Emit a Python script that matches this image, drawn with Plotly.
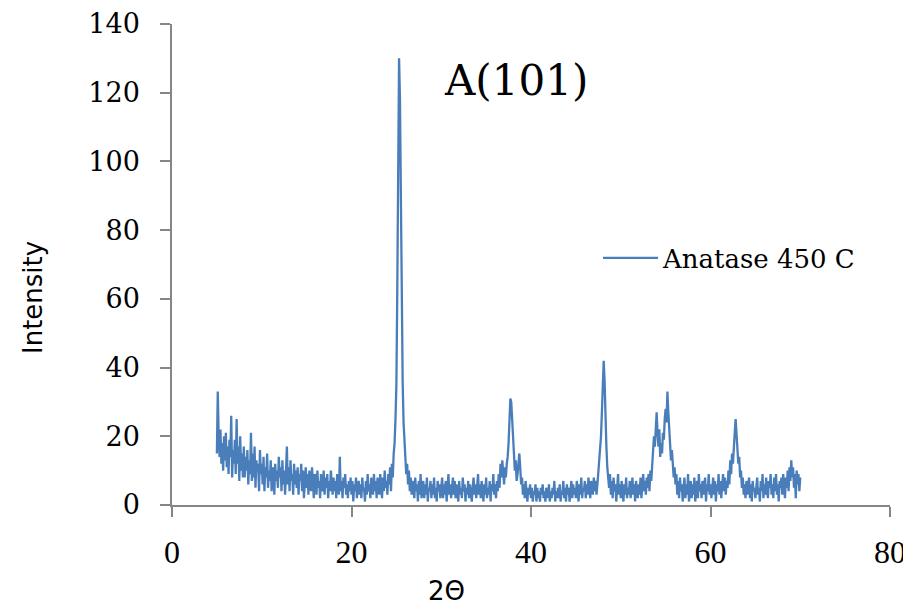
import plotly.graph_objects as go

# Scan parameters (2-theta grid)
two_theta_start = 5.0
two_theta_step = 0.1

# Intensity, one row per degree (10 points per row)
intensity_05_15 = [
    15, 33, 20, 14, 22, 12, 18, 10, 20, 13,
    21, 11, 17, 9, 19, 14, 26, 8, 16, 12,
    19, 9, 25, 12, 17, 7, 20, 10, 15, 8,
    17, 8, 14, 10, 16, 6, 13, 9, 21, 7,
    15, 8, 17, 5, 13, 10, 12, 4, 16, 9,
    12, 6, 14, 4, 11, 8, 15, 5, 10, 7,
    13, 4, 9, 11, 3, 12, 7, 10, 5, 14,
    8, 11, 4, 13, 6, 10, 3, 12, 17, 6,
    11, 4, 13, 7, 9, 3, 12, 6, 10, 5,
    11, 3, 9, 7, 12, 4, 10, 2, 8, 11,
]
intensity_15_25 = [
    5, 9, 3, 10, 7, 4, 11, 6, 2, 9,
    8, 3, 10, 5, 7, 2, 9, 6, 4, 10,
    3, 8, 5, 9, 2, 7, 4, 10, 6, 3,
    8, 4, 7, 2, 9, 5, 3, 14, 4, 7,
    2, 8, 5, 9, 3, 6, 2, 7, 4, 8,
    3, 7, 1, 6, 4, 8, 2, 5, 7, 3,
    6, 2, 8, 4, 5, 1, 7, 3, 9, 4,
    6, 2, 8, 5, 3, 9, 4, 7, 2, 8,
    5, 3, 9, 6, 2, 8, 4, 10, 5, 7,
    3, 9, 6, 11, 4, 12, 8, 15, 18, 25,
]
intensity_25_35 = [
    35, 62, 95, 130, 118, 88, 52, 36, 24, 17,
    14, 9, 12, 6, 10, 4, 8, 3, 7, 5,
    2, 8, 4, 6, 1, 7, 3, 9, 2, 5,
    7, 2, 6, 3, 8, 1, 5, 4, 7, 2,
    6, 3, 8, 2, 5, 1, 7, 4, 6, 2,
    5, 8, 2, 6, 3, 7, 1, 4, 9, 3,
    6, 2, 5, 8, 3, 7, 2, 6, 4, 1,
    7, 3, 5, 2, 8, 4, 6, 1, 5, 3,
    7, 2, 6, 4, 1, 5, 8, 3, 6, 2,
    5, 9, 3, 6, 2, 7, 4, 1, 6, 3,
]
intensity_35_45 = [
    8, 2, 5, 3, 7, 1, 6, 4, 9, 3,
    6, 2, 7, 4, 9, 5, 12, 8, 13, 10,
    6, 11, 8, 12, 14, 18, 24, 31, 30, 25,
    22, 14, 10, 13, 7, 9, 12, 15, 11, 6,
    8, 3, 6, 2, 7, 4, 1, 5, 3, 6,
    2, 5, 1, 4, 3, 6, 1, 5, 2, 4,
    1, 5, 3, 6, 2, 4, 1, 5, 3, 2,
    6, 1, 4, 2, 5, 3, 7, 1, 4, 2,
    5, 2, 6, 1, 4, 3, 7, 2, 5, 1,
    6, 3, 5, 1, 4, 7, 2, 6, 3, 5,
]
intensity_45_55 = [
    2, 7, 4, 1, 6, 3, 8, 2, 5, 4,
    7, 2, 6, 3, 8, 4, 2, 7, 5, 3,
    8, 4, 7, 3, 6, 9, 12, 16, 20, 27,
    34, 42, 36, 24, 17, 11, 8, 5, 9, 3,
    7, 2, 8, 4, 6, 1, 5, 9, 3, 6,
    2, 7, 4, 1, 6, 3, 8, 2, 5, 3,
    7, 2, 5, 8, 3, 6, 1, 7, 4, 2,
    6, 3, 8, 2, 5, 9, 4, 7, 3, 8,
    5, 9, 4, 10, 7, 12, 15, 20, 17, 24,
    27, 21, 17, 22, 14, 18, 15, 21, 19, 25,
]
intensity_55_65 = [
    28, 24, 33, 27, 22, 17, 13, 16, 10, 8,
    11, 6, 9, 3, 7, 2, 8, 4, 6, 1,
    5, 8, 2, 6, 3, 9, 1, 5, 7, 2,
    6, 3, 8, 1, 5, 7, 2, 9, 4, 6,
    2, 7, 3, 5, 8, 1, 6, 4, 9, 3,
    6, 2, 5, 8, 3, 7, 1, 6, 4, 9,
    3, 7, 2, 6, 9, 4, 8, 3, 7, 5,
    10, 6, 13, 9, 15, 12, 19, 21, 25, 20,
    16, 12, 14, 8, 10, 5, 8, 3, 6, 2,
    7, 3, 5, 8, 2, 6, 1, 7, 4, 5,
]
intensity_65_70 = [
    2, 6, 8, 3, 5, 1, 7, 4, 9, 2,
    6, 3, 8, 4, 2, 7, 5, 9, 3, 6,
    2, 8, 4, 9, 3, 6, 1, 7, 5, 8,
    3, 9, 6, 2, 8, 5, 10, 4, 11, 7,
    13, 8, 11, 5, 9, 2, 10, 6, 9, 4,
    8,
]

intensity = (intensity_05_15 + intensity_15_25 + intensity_25_35 +
             intensity_35_45 + intensity_45_55 + intensity_55_65 + intensity_65_70)
two_theta = [round(two_theta_start + i * two_theta_step, 2) for i in range(len(intensity))]

x_ticks = [0, 20, 40, 60, 80]
y_ticks = [0, 20, 40, 60, 80, 100, 120, 140]
series_name = "Anatase 450 C"
peak_label = "A(101)"
x_title = "2Θ"
y_title = "Intensity"

axis_grey = "#868686"

# page body margin offsets the figure
off = 8
W, H = 911 - off, 610 - off
# plot-area pixel box in page coordinates
pl, pr, pt, pb = 172, 890, 24, 505


def px_to_paper(px, py):
    return (px - pl) / (pr - pl), (pb - py) / (pb - pt)


fig = go.Figure()
fig.add_trace(go.Scatter(
    x=two_theta, y=intensity, mode="lines", name=series_name,
    line=dict(color="#4a7ebb", width=2.3),
))

ax, ay = px_to_paper(516, 80)
tx, ty = px_to_paper(446, 591)
yx, yy = px_to_paper(33, 298)
lx, ly = px_to_paper(598, 258)

fig.update_layout(
    width=W, height=H,
    margin=dict(l=pl - off, r=W - (pr - off), t=pt - off, b=H - (pb - off), autoexpand=False),
    paper_bgcolor="white", plot_bgcolor="white",
    showlegend=True,
    legend=dict(
        x=lx, y=ly, xanchor="left", yanchor="middle",
        font=dict(family="DejaVu Serif", size=26, color="black"),
        bgcolor="rgba(0,0,0,0)", itemwidth=55,
    ),
    xaxis=dict(
        range=[0, 80], tickvals=x_ticks, ticktext=[str(v) for v in x_ticks],
        showgrid=False, zeroline=False, showline=True, linecolor=axis_grey, linewidth=1.5,
        ticks="outside", ticklen=10, tickcolor=axis_grey, tickwidth=1.5,
        tickfont=dict(family="Liberation Serif", size=32, color="black"),
        ticklabelstandoff=8, automargin=False,
    ),
    yaxis=dict(
        range=[0, 140], tickvals=y_ticks, ticktext=[str(v) for v in y_ticks],
        showgrid=False, zeroline=False, showline=True, linecolor=axis_grey, linewidth=1.5,
        ticks="outside", ticklen=10, tickcolor=axis_grey, tickwidth=1.5,
        tickfont=dict(family="DejaVu Serif", size=27, color="black"),
        ticklabelstandoff=15, automargin=False,
    ),
    annotations=[
        dict(text=peak_label, x=ax, y=ay, xref="paper", yref="paper", showarrow=False,
             xanchor="center", yanchor="middle",
             font=dict(family="DejaVu Serif", size=42, color="black")),
        dict(text=x_title, x=tx, y=ty, xref="paper", yref="paper", showarrow=False,
             xanchor="center", yanchor="middle",
             font=dict(family="DejaVu Sans", size=26, color="black")),
        dict(text=y_title, x=yx, y=yy, xref="paper", yref="paper", showarrow=False,
             xanchor="center", yanchor="middle", textangle=-90,
             font=dict(family="DejaVu Sans", size=26, color="black")),
    ],
)

fig.write_html("out.html")
